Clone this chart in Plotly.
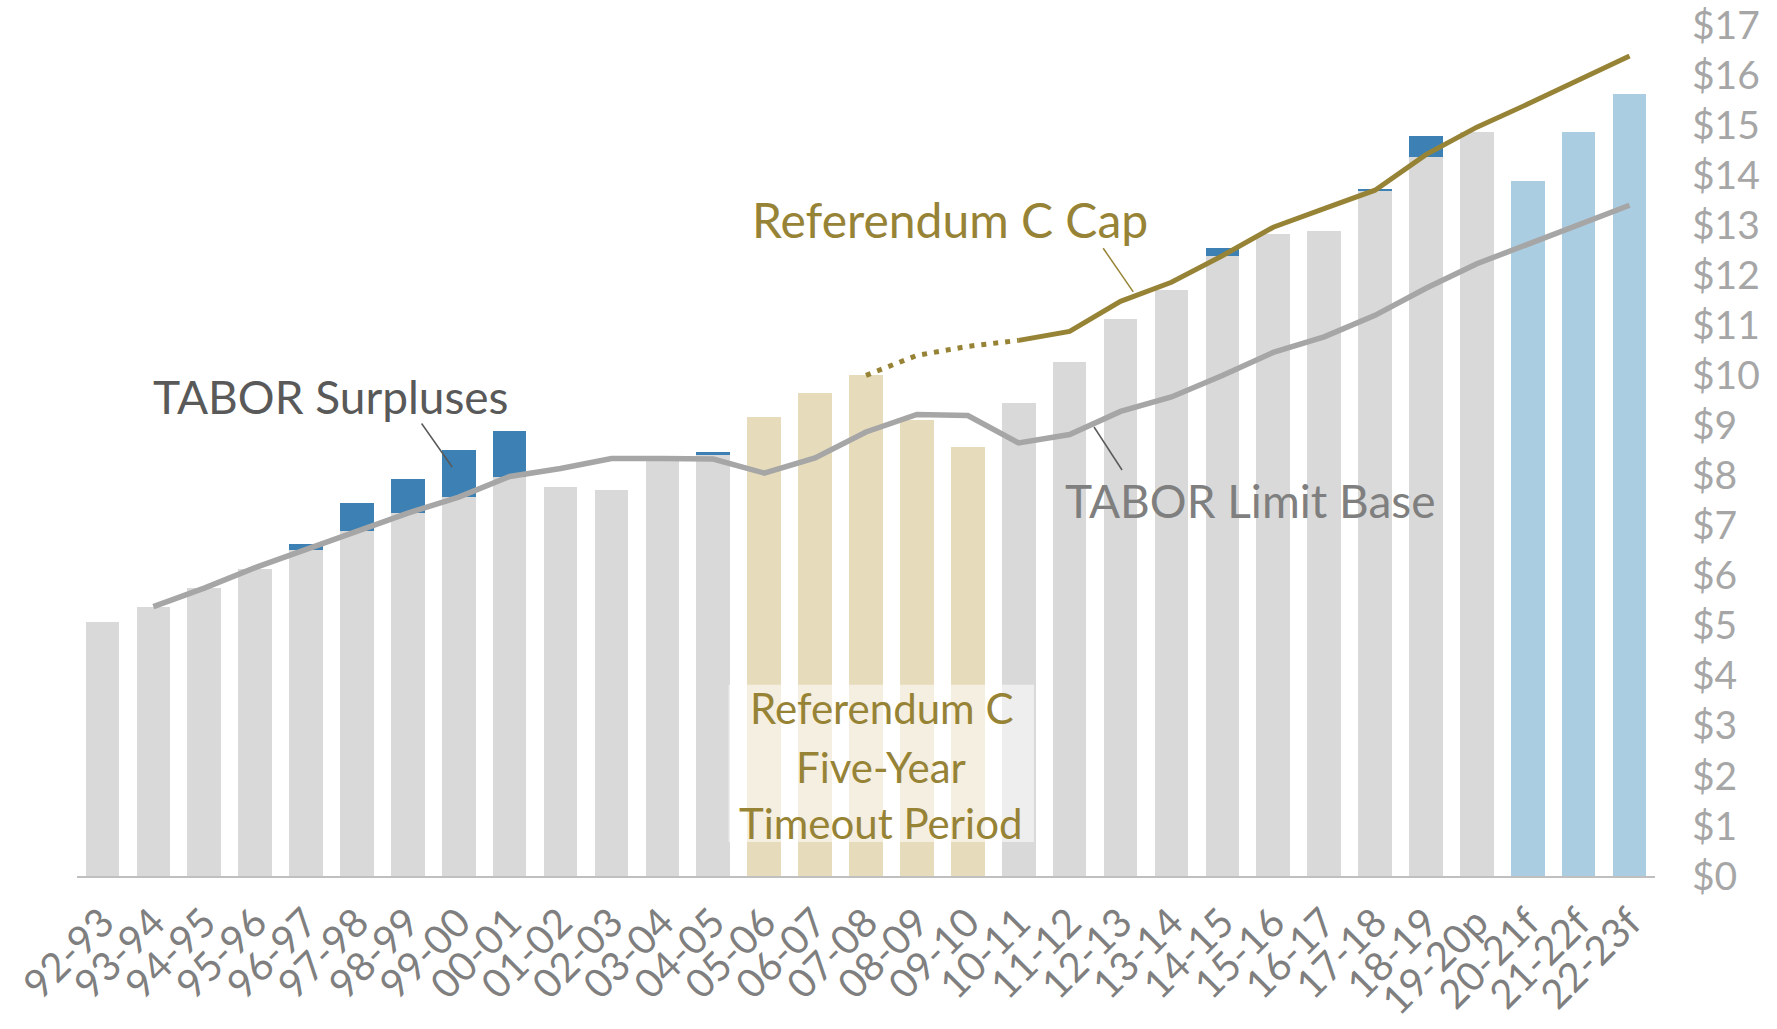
import plotly.graph_objects as go

categories = ["92-93", "93-94", "94-95", "95-96", "96-97", "97-98", "98-99", "99-00",
              "00-01", "01-02", "02-03", "03-04", "04-05", "05-06", "06-07", "07-08",
              "08-09", "09-10", "10-11", "11-12", "12-13", "13-14", "14-15", "15-16",
              "16-17", "17-18", "18-19", "19-20p", "20-21f", "21-22f", "22-23f"]

# revenue retained (bar base), $ billions
base_revenue = [5.07, 5.38, 5.76, 6.13, 6.51, 6.89, 7.25, 7.58, 7.97, 7.77, 7.71, 8.32,
                8.42, 9.17, 9.65, 10.00, 9.11, 8.58, 9.44, 10.27, 11.12, 11.70, 12.38,
                12.82, 12.88, 13.68, 14.37, 14.86, 13.88, 14.86, 15.62]
# TABOR surpluses stacked on top
surplus = [0, 0, 0, 0, 0.13, 0.56, 0.68, 0.93, 0.91, 0, 0, 0,
           0.06, 0, 0, 0, 0, 0, 0, 0, 0, 0, 0.17,
           0, 0, 0.04, 0.41, 0, 0, 0, 0]
# bar group: actual / timeout / forecast
bar_group = ["actual"] * 13 + ["timeout"] * 5 + ["actual"] * 10 + ["forecast"] * 3

tabor_limit_base = [None, 5.38, 5.75, 6.16, 6.53, 6.90, 7.25, 7.57, 7.98, 8.14, 8.34, 8.34,
                    8.33, 8.05, 8.35, 8.87, 9.22, 9.20, 8.65, 8.82, 9.28, 9.57, 10.00,
                    10.46, 10.77, 11.20, 11.74, 12.23, 12.62, 13.03, 13.40]
refc_cap = [None] * 18 + [10.70, 10.88, 11.48, 11.86, 12.39, 12.96, 13.33, 13.70,
                          14.41, 14.96, 15.42, 15.89, 16.38]
refc_cap_timeout = [None] * 15 + [10.00, 10.40, 10.58, 10.70] + [None] * 12

y_ticks = list(range(0, 18))

group_colors = {"actual": "#d9d9d9", "timeout": "#e6dcbc", "forecast": "#abcde2"}
GOLD = "#978336"
FONT = "Lato"

fig = go.Figure()
fig.add_trace(go.Bar(x=categories, y=base_revenue,
                     marker=dict(color=[group_colors[g] for g in bar_group], line_width=0),
                     hoverinfo="skip"))
fig.add_trace(go.Bar(x=categories, y=surplus,
                     marker=dict(color="#3c80b4", line_width=0), hoverinfo="skip"))
fig.add_trace(go.Scatter(x=categories, y=tabor_limit_base, mode="lines",
                         line=dict(color="#a6a6a6", width=5.5), connectgaps=False))
fig.add_trace(go.Scatter(x=categories, y=refc_cap_timeout, mode="lines",
                         line=dict(color=GOLD, width=5, dash="5px,7px")))
fig.add_trace(go.Scatter(x=categories, y=refc_cap, mode="lines",
                         line=dict(color=GOLD, width=5)))

# translucent box over the timeout period
fig.add_shape(type="rect", xref="x", yref="y", x0=12.3, x1=18.3, y0=0.68, y1=3.82,
              fillcolor="rgba(255,255,255,0.55)", line_width=0, layer="above")

annotations = [
    dict(x=4.49, y=9.57, text="TABOR Surpluses", font=dict(size=46, color="#595959")),
    dict(x=16.65, y=13.12, text="Referendum C Cap", font=dict(size=48, color=GOLD)),
    dict(x=22.55, y=7.51, text="TABOR Limit Base", font=dict(size=46, color="#7f7f7f")),
    dict(x=15.3, y=(876 - 708) / 50.06, text="Referendum C", font=dict(size=42, color=GOLD)),
    dict(x=15.3, y=(876 - 767) / 50.06, text="Five-Year", font=dict(size=42, color=GOLD)),
    dict(x=15.3, y=(876 - 823) / 50.06, text="Timeout Period", font=dict(size=42, color=GOLD)),
]
for a in annotations:
    fig.add_annotation(xref="x", yref="y", showarrow=False, font_family=FONT, **a)

leaders = [
    ((6.27, 9.04), (6.87, 8.17), "#595959"),
    ((19.66, 12.54), (20.25, 11.67), GOLD),
    ((19.48, 8.97), (20.03, 8.11), "#595959"),
]
for (x0, y0), (x1, y1), c in leaders:
    fig.add_shape(type="line", xref="x", yref="y", x0=x0, y0=y0, x1=x1, y1=y1,
                  line=dict(color=c, width=1.5), layer="above")

fig.update_layout(
    width=1777, height=1029,
    margin=dict(l=77, r=122, t=25, b=153, autoexpand=False),
    barmode="stack", bargap=0.34,
    showlegend=False,
    plot_bgcolor="white", paper_bgcolor="white",
    font=dict(family=FONT, color="#7f7f7f"),
    xaxis=dict(type="category", tickmode="array", tickvals=categories, ticktext=categories,
               tickangle=-45, tickfont=dict(size=40, color="#7f7f7f"),
               showline=True, linecolor="#bfbfbf", linewidth=2, showgrid=False,
               ticks="", ticklabelstandoff=5, automargin=False),
    yaxis=dict(side="right", range=[0, 17], tickvals=y_ticks,
               ticktext=["$" + str(v) for v in y_ticks],
               tickfont=dict(size=39, color="#a6a6a6"), showgrid=False,
               zeroline=False, showline=False, ticks="", ticklabelstandoff=36,
               automargin=False),
)

fig.write_html("out.html", config={"displayModeBar": False},
               post_script="document.body.style.margin='0';")
